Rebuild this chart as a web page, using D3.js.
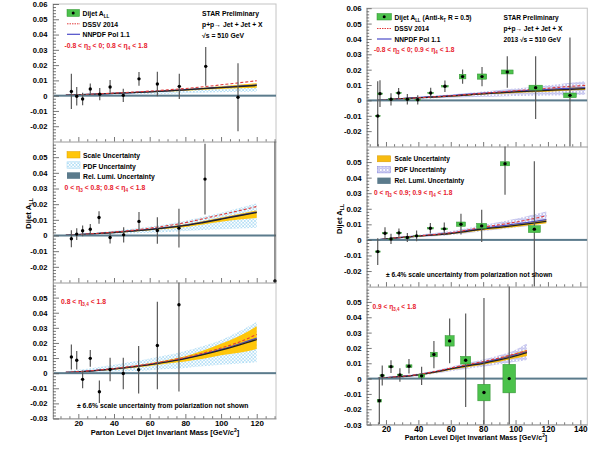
<!DOCTYPE html>
<html><head><meta charset="utf-8">
<script src="https://cdn.jsdelivr.net/npm/d3@7"></script>
<style>
body{margin:0;background:#fff}
svg{display:block}
text{font-family:"Liberation Sans",Arial,Helvetica,sans-serif;font-weight:bold}
</style>
</head><body>
<svg id="c" width="596" height="449"></svg>
<script>
// ---------------- DATA ----------------
// tick labels
const xTicksL = [20, 40, 60, 80, 100, 120];
const xTicksR = [20, 40, 60, 80, 100, 120, 140];
const yTicksTop = [-0.02, -0.01, 0, 0.01, 0.02, 0.03, 0.04, 0.05, 0.06];
const yTicksMid = [-0.02, -0.01, 0, 0.01, 0.02, 0.03, 0.04, 0.05];
const yTicksBot = [-0.03, -0.02, -0.01, 0, 0.01, 0.02, 0.03, 0.04, 0.05];

// Left figure, top panel (-0.8<eta3<0; 0.8<eta4<1.8)
const ltMass = [16.1, 19.1, 22.4, 26.7, 32.0, 37.8, 45.2, 54.0, 64.3, 76.6, 91.4, 109.5];
const ltALL  = [0.0028, -0.0004, -0.0022, 0.0044, 0.0010, 0.0057, 0.0002, 0.0110, 0.0076, 0.0061, 0.0192, -0.0010];
const ltErr  = [0.0115, 0.0060, 0.0041, 0.0035, 0.0040, 0.0045, 0.0043, 0.0045, 0.0080, 0.0083, 0.0127, 0.0223];
// Left figure, middle panel (0<eta3<0.8; 0.8<eta4<1.8)
const lmMass = [16.1, 19.1, 22.4, 26.7, 31.6, 37.8, 45.4, 54.0, 64.3, 76.4, 91.0, 130.2];
const lmALL  = [-0.0021, 0.0009, 0.0030, 0.0040, 0.0115, -0.0013, 0.0004, 0.0090, 0.0032, 0.0047, 0.0360, -0.0290];
const lmErr  = [0.0054, 0.0037, 0.0034, 0.0034, 0.0040, 0.0038, 0.0048, 0.0060, 0.0084, 0.0124, 0.0226, 0.0900];
// Left figure, bottom panel (0.8<eta3,4<1.8)
const lbMass = [16.1, 19.1, 22.4, 26.7, 31.8, 37.8, 45.2, 53.8, 64.3, 76.4];
const lbALL  = [0.0107, 0.0085, -0.0041, 0.0098, -0.0123, 0.0024, -0.0002, 0.0023, 0.0183, 0.0453];
const lbErr  = [0.0083, 0.0061, 0.0059, 0.0056, 0.0074, 0.0078, 0.0104, 0.0157, 0.0289, 0.0575];

// Right figure, top panel
const rtMass = [14.9, 16.3, 23.1, 27.8, 33.2, 39.6, 47.6, 56.4, 67.3, 79.3, 94.9, 112.4, 133.6];
const rtALL  = [-0.0102, 0.0044, 0.0007, 0.0048, 0.0007, 0.0004, 0.0048, 0.0092, 0.0155, 0.0155, 0.0185, 0.0083, 0.0033];
const rtErr  = [0.0226, 0.0087, 0.0040, 0.0033, 0.0034, 0.0030, 0.0034, 0.0038, 0.0046, 0.0063, 0.0103, 0.0204, 0.0377];
const rtSysX = [1.5, 1.5, 1.5, 1.6, 1.6, 1.7, 1.8, 2.0, 2.05, 2.9, 3.6, 4.1, 3.9];
const rtSysY = [0.0004, 0.0004, 0.0004, 0.0004, 0.0004, 0.0004, 0.0004, 0.0005, 0.0015, 0.0017, 0.0013, 0.0016, 0.0015];
// Right figure, middle panel
const rmMass = [14.9, 19.4, 23.1, 28.0, 33.2, 38.9, 47.4, 56.0, 66.3, 79.1, 93.5, 111.6];
const rmALL  = [-0.0075, 0.0043, 0.0006, 0.0045, 0.0015, 0.0026, 0.0075, 0.0071, 0.0101, 0.0090, 0.0489, 0.0069];
const rmErr  = [0.0086, 0.0039, 0.0033, 0.0029, 0.0029, 0.0034, 0.0034, 0.0041, 0.0067, 0.0104, 0.0199, 0.0437];
const rmSysX = [1.5, 1.5, 1.5, 1.6, 1.6, 1.7, 1.8, 2.0, 2.8, 3.1, 2.9, 3.7];
const rmSysY = [0.0004, 0.0004, 0.0004, 0.0004, 0.0004, 0.0004, 0.0005, 0.0005, 0.0014, 0.0016, 0.0013, 0.0022];
// Right figure, bottom panel
const rbMass = [15.9, 17.7, 23.1, 28.6, 34.2, 42.0, 49.6, 59.3, 69.2, 80.5, 96.1];
const rbALL  = [-0.0144, 0.0020, 0.0078, 0.0024, 0.0081, 0.0018, 0.0157, 0.0246, 0.0120, -0.0091, 0.0000];
const rbErr  = [0.0152, 0.0065, 0.0041, 0.0044, 0.0047, 0.0059, 0.0089, 0.0146, 0.0305, 0.0616, 0.0900];
const rbSysX = [1.3, 1.4, 1.5, 1.6, 1.85, 1.85, 2.05, 2.8, 3.1, 3.8, 3.9];
const rbSysY = [0.0009, 0.0005, 0.0005, 0.0005, 0.0009, 0.0011, 0.0015, 0.0034, 0.0025, 0.0054, 0.0093];

// Theory curves
const thLTmass  = [13, 20, 30, 40, 50, 60, 70, 80, 90, 100, 110, 120];
const thLTcen   = [0.0003, 0.0006, 0.0010, 0.0015, 0.0020, 0.0025, 0.0031, 0.0038, 0.0046, 0.0053, 0.0060, 0.0067];
const thLTdssv  = [0.0003, 0.0006, 0.0011, 0.0017, 0.0023, 0.0030, 0.0038, 0.0047, 0.0058, 0.0071, 0.0084, 0.0098];
const thLTnnpdf = [0.0003, 0.0006, 0.0010, 0.0015, 0.0020, 0.0026, 0.0032, 0.0039, 0.0047, 0.0055, 0.0062, 0.0070];
const thLTscLo  = [0.0002, 0.0005, 0.0009, 0.0013, 0.0017, 0.0022, 0.0027, 0.0033, 0.0039, 0.0044, 0.0048, 0.0052];
const thLTscHi  = [0.0004, 0.0007, 0.0012, 0.0017, 0.0023, 0.0028, 0.0035, 0.0043, 0.0052, 0.0062, 0.0072, 0.0082];
const thLTpdfLo = [0.0001, 0.0002, 0.0004, 0.0006, 0.0008, 0.0010, 0.0013, 0.0016, 0.0019, 0.0022, 0.0025, 0.0028];
const thLTpdfHi = [0.0005, 0.0009, 0.0014, 0.0020, 0.0026, 0.0032, 0.0039, 0.0047, 0.0055, 0.0063, 0.0071, 0.0080];

const thLMmass  = [13, 20, 30, 40, 50, 60, 70, 80, 90, 100, 110, 120];
const thLMcen   = [0.0002, 0.0006, 0.0012, 0.0019, 0.0028, 0.0038, 0.0050, 0.0064, 0.0083, 0.0104, 0.0126, 0.0147];
const thLMdssv  = [0.0002, 0.0006, 0.0013, 0.0022, 0.0033, 0.0047, 0.0063, 0.0082, 0.0107, 0.0133, 0.0158, 0.0185];
const thLMnnpdf = [0.0002, 0.0006, 0.0012, 0.0020, 0.0029, 0.0040, 0.0052, 0.0067, 0.0086, 0.0107, 0.0129, 0.0150];
const thLMscLo  = [0.0001, 0.0005, 0.0010, 0.0016, 0.0024, 0.0033, 0.0043, 0.0055, 0.0070, 0.0087, 0.0102, 0.0112];
const thLMscHi  = [0.0003, 0.0007, 0.0014, 0.0022, 0.0032, 0.0043, 0.0056, 0.0072, 0.0092, 0.0115, 0.0138, 0.0160];
const thLMpdfLo = [0.0000, 0.0002, 0.0005, 0.0009, 0.0013, 0.0017, 0.0022, 0.0028, 0.0035, 0.0040, 0.0045, 0.0050];
const thLMpdfHi = [0.0005, 0.0010, 0.0019, 0.0030, 0.0043, 0.0057, 0.0074, 0.0094, 0.0119, 0.0145, 0.0175, 0.0205];

const thLBmass  = [13, 20, 30, 40, 50, 60, 70, 80, 90, 100, 110, 120];
const thLBcen   = [0.0005, 0.0009, 0.0017, 0.0028, 0.0041, 0.0057, 0.0075, 0.0096, 0.0122, 0.0152, 0.0186, 0.0223];
const thLBdssv  = [0.0005, 0.0010, 0.0019, 0.0031, 0.0045, 0.0062, 0.0082, 0.0105, 0.0133, 0.0166, 0.0205, 0.0256];
const thLBnnpdf = [0.0005, 0.0009, 0.0018, 0.0029, 0.0042, 0.0058, 0.0077, 0.0099, 0.0126, 0.0157, 0.0193, 0.0232];
const thLBscLo  = [0.0004, 0.0007, 0.0014, 0.0023, 0.0034, 0.0048, 0.0064, 0.0078, 0.0095, 0.0118, 0.0135, 0.0160];
const thLBscHi  = [0.0006, 0.0011, 0.0021, 0.0033, 0.0048, 0.0066, 0.0087, 0.0112, 0.0150, 0.0195, 0.0245, 0.0310];
const thLBpdfLo = [0.0001, 0.0002, 0.0005, 0.0009, 0.0014, 0.0020, 0.0027, 0.0035, 0.0045, 0.0055, 0.0064, 0.0073];
const thLBpdfHi = [0.0012, 0.0022, 0.0038, 0.0055, 0.0075, 0.0097, 0.0120, 0.0147, 0.0180, 0.0220, 0.0275, 0.0340];

const thRTmass  = [15, 20, 30, 40, 50, 60, 70, 80, 90, 100, 110, 120, 130, 143];
const thRTcen   = [0.0000, 0.0004, 0.0011, 0.0017, 0.0022, 0.0028, 0.0035, 0.0043, 0.0049, 0.0055, 0.0060, 0.0065, 0.0070, 0.0076];
const thRTdssv  = [0.0000, 0.0004, 0.0011, 0.0017, 0.0023, 0.0030, 0.0038, 0.0047, 0.0055, 0.0063, 0.0071, 0.0079, 0.0088, 0.0098];
const thRTnnpdf = [0.0000, 0.0005, 0.0012, 0.0019, 0.0025, 0.0032, 0.0040, 0.0047, 0.0054, 0.0060, 0.0066, 0.0072, 0.0077, 0.0083];
const thRTscLo  = [0.0000, 0.0003, 0.0010, 0.0015, 0.0020, 0.0025, 0.0031, 0.0038, 0.0043, 0.0048, 0.0053, 0.0057, 0.0062, 0.0067];
const thRTscHi  = [0.0001, 0.0005, 0.0012, 0.0019, 0.0025, 0.0031, 0.0039, 0.0048, 0.0055, 0.0062, 0.0068, 0.0074, 0.0081, 0.0089];
const thRTpdfLo = [0.0000, 0.0002, 0.0007, 0.0011, 0.0014, 0.0017, 0.0020, 0.0023, 0.0026, 0.0028, 0.0030, 0.0032, 0.0034, 0.0037];
const thRTpdfHi = [0.0002, 0.0007, 0.0015, 0.0023, 0.0031, 0.0039, 0.0048, 0.0058, 0.0067, 0.0077, 0.0087, 0.0098, 0.0110, 0.0124];

const thRMmass  = [15, 20, 30, 40, 50, 60, 70, 80, 90, 100, 110, 119];
const thRMcen   = [0.0000, 0.0006, 0.0016, 0.0024, 0.0032, 0.0041, 0.0055, 0.0070, 0.0081, 0.0093, 0.0106, 0.0119];
const thRMdssv  = [0.0000, 0.0006, 0.0017, 0.0026, 0.0035, 0.0046, 0.0063, 0.0082, 0.0097, 0.0114, 0.0134, 0.0155];
const thRMnnpdf = [0.0000, 0.0006, 0.0016, 0.0025, 0.0034, 0.0044, 0.0059, 0.0075, 0.0088, 0.0102, 0.0116, 0.0130];
const thRMscLo  = [0.0000, 0.0005, 0.0014, 0.0021, 0.0028, 0.0036, 0.0049, 0.0062, 0.0072, 0.0083, 0.0095, 0.0107];
const thRMscHi  = [0.0001, 0.0007, 0.0018, 0.0027, 0.0035, 0.0045, 0.0060, 0.0076, 0.0089, 0.0102, 0.0117, 0.0133];
const thRMpdfLo = [0.0000, 0.0003, 0.0011, 0.0017, 0.0024, 0.0032, 0.0043, 0.0056, 0.0067, 0.0079, 0.0093, 0.0108];
const thRMpdfHi = [0.0003, 0.0010, 0.0022, 0.0033, 0.0044, 0.0057, 0.0075, 0.0096, 0.0115, 0.0136, 0.0160, 0.0183];

const thRBmass  = [15, 20, 30, 40, 50, 60, 70, 80, 90, 100, 107];
const thRBcen   = [0.0001, 0.0005, 0.0013, 0.0024, 0.0042, 0.0063, 0.0083, 0.0100, 0.0122, 0.0148, 0.0170];
const thRBdssv  = [0.0001, 0.0006, 0.0015, 0.0027, 0.0046, 0.0069, 0.0091, 0.0111, 0.0135, 0.0162, 0.0182];
const thRBnnpdf = [0.0001, 0.0006, 0.0014, 0.0026, 0.0044, 0.0066, 0.0087, 0.0106, 0.0129, 0.0156, 0.0177];
const thRBscLo  = [0.0000, 0.0004, 0.0011, 0.0021, 0.0037, 0.0056, 0.0074, 0.0090, 0.0110, 0.0132, 0.0148];
const thRBscHi  = [0.0002, 0.0006, 0.0015, 0.0027, 0.0046, 0.0069, 0.0091, 0.0110, 0.0134, 0.0165, 0.0188];
const thRBpdfLo = [-0.0002, 0.0000, 0.0006, 0.0016, 0.0031, 0.0048, 0.0064, 0.0077, 0.0093, 0.0110, 0.0122];
const thRBpdfHi = [0.0003, 0.0009, 0.0020, 0.0033, 0.0053, 0.0078, 0.0102, 0.0124, 0.0152, 0.0188, 0.0231];

// ---------------- LAYOUT ----------------
const FIG = {
  L: { x0: 53, x1: 276, dom: [5.8, 130.8], rows: [[4, 141.5], [141.5, 282.5], [282.5, 418.5]],
       xTicks: xTicksL, yFs: 7.6, xFs: 8, xPad: 2.2, yPad: 5.5, yMaj: 6, yMin: 3, pdf: 'url(#pdfL)', scale: '#ffc60a' },
  R: { x0: 366.7, x1: 587.3, dom: [8.1, 144.3], rows: [[8.2, 146.5], [146.5, 286.6], [286.6, 424.6]],
       xTicks: xTicksR, yFs: 7.8, xFs: 8.2, xPad: 1.1, yPad: 5, yMaj: 5, yMin: 2.5, pdf: 'url(#pdfR)', scale: '#f7bb10' }
};

const panels = [
  { fig: 'L', row: 0, mass: ltMass, all: ltALL, err: ltErr, yTicks: yTicksTop,
    th: { mass: thLTmass, cen: thLTcen, dssv: thLTdssv, nnpdf: thLTnnpdf, scLo: thLTscLo, scHi: thLTscHi, pdfLo: thLTpdfLo, pdfHi: thLTpdfHi } },
  { fig: 'L', row: 1, mass: lmMass, all: lmALL, err: lmErr, yTicks: yTicksMid,
    th: { mass: thLMmass, cen: thLMcen, dssv: thLMdssv, nnpdf: thLMnnpdf, scLo: thLMscLo, scHi: thLMscHi, pdfLo: thLMpdfLo, pdfHi: thLMpdfHi } },
  { fig: 'L', row: 2, mass: lbMass, all: lbALL, err: lbErr, yTicks: yTicksBot,
    th: { mass: thLBmass, cen: thLBcen, dssv: thLBdssv, nnpdf: thLBnnpdf, scLo: thLBscLo, scHi: thLBscHi, pdfLo: thLBpdfLo, pdfHi: thLBpdfHi } },
  { fig: 'R', row: 0, mass: rtMass, all: rtALL, err: rtErr, sysX: rtSysX, sysY: rtSysY, yTicks: yTicksTop,
    th: { mass: thRTmass, cen: thRTcen, dssv: thRTdssv, nnpdf: thRTnnpdf, scLo: thRTscLo, scHi: thRTscHi, pdfLo: thRTpdfLo, pdfHi: thRTpdfHi } },
  { fig: 'R', row: 1, mass: rmMass, all: rmALL, err: rmErr, sysX: rmSysX, sysY: rmSysY, yTicks: yTicksMid,
    th: { mass: thRMmass, cen: thRMcen, dssv: thRMdssv, nnpdf: thRMnnpdf, scLo: thRMscLo, scHi: thRMscHi, pdfLo: thRMpdfLo, pdfHi: thRMpdfHi } },
  { fig: 'R', row: 2, mass: rbMass, all: rbALL, err: rbErr, sysX: rbSysX, sysY: rbSysY, yTicks: yTicksBot,
    th: { mass: thRBmass, cen: thRBcen, dssv: thRBdssv, nnpdf: thRBnnpdf, scLo: thRBscLo, scHi: thRBscHi, pdfLo: thRBpdfLo, pdfHi: thRBpdfHi } }
];

const C = { red: '#e8192c', dssv: '#e23a3a', nnpdf: '#4b4bc8', lumi: '#5b7b8c', green: '#4cc24c', greenEdge: '#2f8f2f',
            err: '#5a5a5a', frame: '#9a9a9a', tick: '#555' };

const svg = d3.select('#c');
const defs = svg.append('defs');
const pL = defs.append('pattern').attr('id', 'pdfL').attr('patternUnits', 'userSpaceOnUse').attr('width', 3.4).attr('height', 3.4);
pL.append('path').attr('d', 'M-1,1L1,-1M0,3.4L3.4,0M2.4,4.4L4.4,2.4M-1,2.4L1,4.4M0,0L3.4,3.4M2.4,-1L4.4,1')
  .attr('stroke', '#a3d7f3').attr('stroke-width', 0.7).attr('fill', 'none');
const pR = defs.append('pattern').attr('id', 'pdfR').attr('patternUnits', 'userSpaceOnUse').attr('width', 3.4).attr('height', 3.4);
pR.append('circle').attr('cx', 1.7).attr('cy', 1.7).attr('r', 1.15).attr('fill', 'none').attr('stroke', '#8282dc').attr('stroke-width', 0.6);

function rich(g, x, y, parts, fs, fill, anchor) {
  const t = g.append('text').attr('x', x).attr('y', y).attr('font-size', fs)
    .attr('fill', fill || '#000').attr('text-anchor', anchor || 'start');
  let pending = 0;
  parts.forEach(p => {
    if (typeof p === 'string') {
      const ts = t.append('tspan').text(p);
      if (pending) { ts.attr('dy', pending); pending = 0; }
    } else {
      const isSub = p.sub !== undefined;
      const sh = isSub ? fs * 0.32 : -fs * 0.42;
      t.append('tspan').attr('dy', sh + pending).attr('font-size', fs * 0.68).text(isSub ? p.sub : p.sup);
      pending = -sh;
    }
  });
  return t;
}

function drawPanel(p) {
  const F = FIG[p.fig];
  const [top, bot] = F.rows[p.row];
  const x = d3.scaleLinear().domain(F.dom).range([F.x0, F.x1]);
  const y = d3.scaleLinear().domain([-0.03, 0.06]).range([bot, top]);
  const clipId = 'clip' + p.fig + p.row;
  defs.append('clipPath').attr('id', clipId).append('rect')
    .attr('x', F.x0).attr('y', top).attr('width', F.x1 - F.x0).attr('height', bot - top);
  const g = svg.append('g');
  const cg = g.append('g').attr('clip-path', `url(#${clipId})`);
  const th = p.th;
  const idx = d3.range(th.mass.length);
  const area = (lo, hi) => d3.area().x(i => x(th.mass[i])).y0(i => y(lo[i])).y1(i => y(hi[i])).curve(d3.curveMonotoneX);
  const line = arr => d3.line().x(i => x(th.mass[i])).y(i => y(arr[i])).curve(d3.curveMonotoneX);
  cg.append('path').datum(idx).attr('d', area(th.pdfLo, th.pdfHi)).attr('fill', F.pdf);
  cg.append('path').datum(idx).attr('d', area(th.scLo, th.scHi)).attr('fill', F.scale);
  cg.append('path').datum(idx).attr('d', line(th.nnpdf)).attr('fill', 'none').attr('stroke', C.nnpdf).attr('stroke-width', 1.2);
  cg.append('path').datum(idx).attr('d', line(th.cen)).attr('fill', 'none').attr('stroke', '#222').attr('stroke-width', 1.3);
  cg.append('path').datum(idx).attr('d', line(th.dssv)).attr('fill', 'none').attr('stroke', C.dssv).attr('stroke-width', 1.1).attr('stroke-dasharray', '3,2');
  // relative luminosity band at zero
  cg.append('rect').attr('x', F.x0).attr('width', F.x1 - F.x0).attr('y', y(0) - 1).attr('height', 2).attr('fill', C.lumi);

  const di = d3.range(p.mass.length);
  cg.selectAll('line.err').data(di).join('line').attr('class', 'err')
    .attr('x1', i => x(p.mass[i])).attr('x2', i => x(p.mass[i]))
    .attr('y1', i => y(p.all[i] + p.err[i])).attr('y2', i => y(p.all[i] - p.err[i]))
    .attr('stroke', C.err).attr('stroke-width', 1.2);
  if (p.sysX) {
    cg.selectAll('rect.sys').data(di).join('rect').attr('class', 'sys')
      .attr('x', i => x(p.mass[i] - p.sysX[i])).attr('width', i => x(p.mass[i] + p.sysX[i]) - x(p.mass[i] - p.sysX[i]))
      .attr('y', i => y(p.all[i] + p.sysY[i])).attr('height', i => y(p.all[i] - p.sysY[i]) - y(p.all[i] + p.sysY[i]))
      .attr('fill', C.green).attr('stroke', C.greenEdge).attr('stroke-width', 0.5);
  }
  g.selectAll('circle.pt').data(di).join('circle').attr('class', 'pt')
    .attr('cx', i => x(p.mass[i])).attr('cy', i => y(p.all[i])).attr('r', 1.7).attr('fill', '#000');

  // axes
  const isBottom = p.row === 2;
  const xa = d3.axisBottom(x).tickValues(F.xTicks).tickSizeInner(-4.5).tickSizeOuter(0).tickPadding(F.xPad)
    .tickFormat(isBottom ? d => String(d) : () => '');
  const xg = g.append('g').attr('transform', `translate(0,${bot})`).call(xa);
  const minorX = d3.range(Math.ceil(F.dom[0] / 5) * 5, F.dom[1], 5).filter(v => v % 20 !== 0);
  const xm = d3.axisBottom(x).tickValues(minorX).tickSizeInner(-2.3).tickSizeOuter(0).tickFormat(() => '');
  const xmg = g.append('g').attr('transform', `translate(0,${bot})`).call(xm);
  xmg.select('.domain').remove();
  const ya = d3.axisLeft(y).tickValues(p.yTicks).tickSizeInner(-F.yMaj).tickSizeOuter(0).tickPadding(F.yPad)
    .tickFormat(d => String(d));
  const yg = g.append('g').attr('transform', `translate(${F.x0},0)`).call(ya);
  const minorY = d3.range(-30, 61, 2).filter(v => v % 10 !== 0).map(v => v / 1000);
  const ym = d3.axisLeft(y).tickValues(minorY).tickSizeInner(-F.yMin).tickSizeOuter(0).tickFormat(() => '');
  const ymg = g.append('g').attr('transform', `translate(${F.x0},0)`).call(ym);
  ymg.select('.domain').remove();
  [xg, xmg, yg, ymg].forEach(a => {
    a.selectAll('.tick line').attr('stroke', C.tick).attr('stroke-width', 0.8);
    a.select('.domain').attr('stroke', C.frame).attr('stroke-width', 1);
  });
  xg.selectAll('text').attr('font-size', F.xFs).attr('fill', '#000').attr('font-family', null);
  yg.selectAll('text').attr('font-size', F.yFs).attr('fill', '#000').attr('font-family', null);
  return { x, y, g };
}

// outer frames
['L', 'R'].forEach(k => {
  const F = FIG[k];
  svg.append('rect').attr('x', F.x0).attr('y', F.rows[0][0]).attr('width', F.x1 - F.x0)
    .attr('height', F.rows[2][1] - F.rows[0][0]).attr('fill', 'none').attr('stroke', '#c4c4c4').attr('stroke-width', 1);
});

panels.forEach(drawPanel);

const T = svg.append('g');
const fsL = 6.8, fsR = 6.6;

// ---- Left figure texts ----
T.append('rect').attr('x', 67).attr('y', 9.5).attr('width', 12.5).attr('height', 7).attr('fill', C.green).attr('stroke', C.greenEdge).attr('stroke-width', 0.5);
T.append('circle').attr('cx', 73.2).attr('cy', 13).attr('r', 1.5).attr('fill', '#000');
T.append('line').attr('x1', 67).attr('x2', 80).attr('y1', 23.8).attr('y2', 23.8).attr('stroke', C.dssv).attr('stroke-width', 1).attr('stroke-dasharray', '1.5,1');
T.append('line').attr('x1', 67).attr('x2', 80).attr('y1', 34.3).attr('y2', 34.3).attr('stroke', C.nnpdf).attr('stroke-width', 1.2);
rich(T, 82.5, 16, ['Dijet A', { sub: 'LL' }], fsL);
rich(T, 82.5, 26.5, ['DSSV 2014'], fsL);
rich(T, 82.5, 37, ['NNPDF Pol 1.1'], fsL);
rich(T, 64.5, 47.5, ['-0.8 < η', { sub: '3' }, ' < 0; 0.8 < η', { sub: '4' }, ' < 1.8'], fsL, C.red);
rich(T, 202, 16, ['STAR Preliminary'], fsL);
rich(T, 202, 27, ['p+p→ Jet + Jet + X'], fsL);
rich(T, 202, 37.5, ['√s = 510 GeV'], fsL);

T.append('rect').attr('x', 67).attr('y', 151.5).attr('width', 13).attr('height', 6.5).attr('fill', '#ffc60a').attr('stroke', '#e0a000').attr('stroke-width', 0.5);
T.append('rect').attr('x', 67).attr('y', 161.8).attr('width', 13).attr('height', 6.5).attr('fill', 'url(#pdfL)').attr('stroke', '#a3d7f3').attr('stroke-width', 0.5);
T.append('rect').attr('x', 67).attr('y', 172.3).attr('width', 13).attr('height', 6.5).attr('fill', C.lumi);
rich(T, 83, 158, ['Scale Uncertainty'], fsL);
rich(T, 83, 168.5, ['PDF Uncertainty'], fsL);
rich(T, 83, 179, ['Rel. Lumi. Uncertainty'], fsL);
rich(T, 64.5, 190, ['0 < η', { sub: '3' }, ' < 0.8; 0.8 < η', { sub: '4' }, ' < 1.8'], fsL, C.red);

rich(T, 61, 303.5, ['0.8 < η', { sub: '3,4' }, ' < 1.8'], fsL, C.red);
rich(T, 77, 408, ['± 6.6% scale uncertainty from polarization not shown'], fsL);
rich(T, 165, 435, ['Parton Level Dijet Invariant Mass [GeV/c', { sup: '2' }, ']'], 7.5, '#000', 'middle');
const ytL = T.append('g').attr('transform', 'translate(30.5,213.5) rotate(-90)');
rich(ytL, 0, 0, ['Dijet A', { sub: 'LL' }], 7.8, '#000', 'middle');

// ---- Right figure texts ----
T.append('rect').attr('x', 377).attr('y', 13.5).attr('width', 14.5).attr('height', 6.5).attr('fill', C.green).attr('stroke', C.greenEdge).attr('stroke-width', 0.5);
T.append('circle').attr('cx', 384.2).attr('cy', 16.8).attr('r', 1.5).attr('fill', '#000');
T.append('line').attr('x1', 377).attr('x2', 391.5).attr('y1', 28.5).attr('y2', 28.5).attr('stroke', C.dssv).attr('stroke-width', 1).attr('stroke-dasharray', '1.5,1');
T.append('line').attr('x1', 377).attr('x2', 391.5).attr('y1', 39).attr('y2', 39).attr('stroke', C.nnpdf).attr('stroke-width', 1.2);
rich(T, 394.5, 19.5, ['Dijet A', { sub: 'LL' }, '  (Anti-k', { sub: 'T' }, ' R = 0.5)'], fsR);
rich(T, 394.5, 30.5, ['DSSV 2014'], fsR);
rich(T, 394.5, 41.5, ['NNPDF Pol 1.1'], fsR);
rich(T, 374, 52, ['-0.8 < η', { sub: '3' }, ' < 0; 0.9 < η', { sub: '4' }, ' < 1.8'], fsR, C.red);
rich(T, 503.5, 19.5, ['STAR Preliminary'], fsR);
rich(T, 503.5, 30.5, ['p+p→ Jet + Jet + X'], fsR);
rich(T, 503.5, 41.5, ['2013  √s = 510 GeV'], fsR);

T.append('rect').attr('x', 377.3).attr('y', 155.8).attr('width', 13.4).attr('height', 6).attr('fill', '#f7bb10').attr('stroke', '#d89a00').attr('stroke-width', 0.5);
T.append('rect').attr('x', 377.3).attr('y', 166.6).attr('width', 13.4).attr('height', 6.3).attr('fill', 'url(#pdfR)').attr('stroke', '#8282dc').attr('stroke-width', 0.5);
T.append('rect').attr('x', 377.3).attr('y', 177.6).attr('width', 13.4).attr('height', 6.3).attr('fill', C.lumi);
rich(T, 394.5, 161, ['Scale Uncertainty'], fsR);
rich(T, 394.5, 171.8, ['PDF Uncertainty'], fsR);
rich(T, 394.5, 182.8, ['Rel. Lumi. Uncertainty'], fsR);
rich(T, 374, 194.5, ['0 < η', { sub: '3' }, ' < 0.9; 0.9 < η', { sub: '4' }, ' < 1.8'], fsR, C.red);
rich(T, 386, 277, ['± 6.4% scale uncertainty from polarization not shown'], fsR);

rich(T, 372.5, 308.5, ['0.9 < η', { sub: '3,4' }, ' < 1.8'], fsR, C.red);
rich(T, 476, 440, ['Parton Level Dijet Invariant Mass [GeV/c', { sup: '2' }, ']'], 7.2, '#000', 'middle');
const ytR = T.append('g').attr('transform', 'translate(342,219) rotate(-90)');
rich(ytR, 0, 0, ['Dijet A', { sub: 'LL' }], 7.6, '#000', 'middle');
</script>
</body></html>
